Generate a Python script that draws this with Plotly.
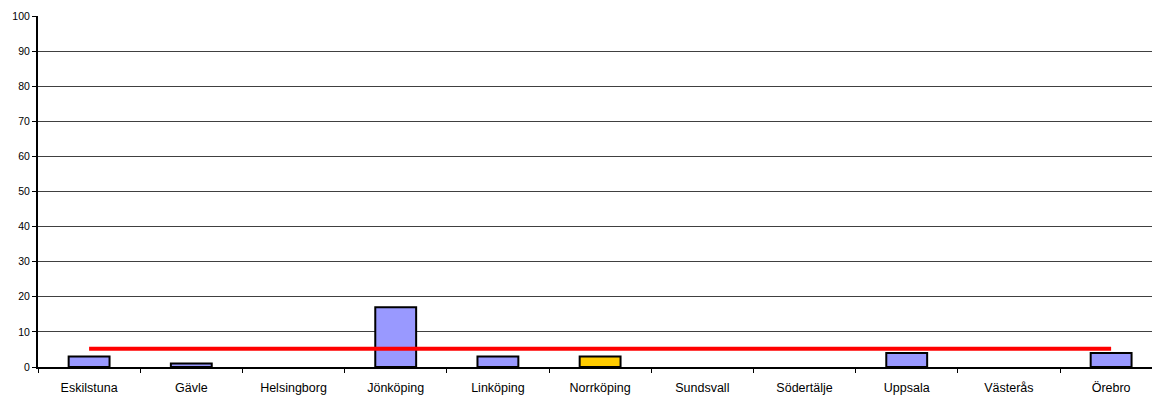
import plotly.graph_objects as go

cities = ["Eskilstuna", "Gävle", "Helsingborg", "Jönköping", "Linköping",
          "Norrköping", "Sundsvall", "Södertälje", "Uppsala", "Västerås", "Örebro"]
values = [3, 1, 0, 17, 3, 3, 0, 0, 4, 0, 4]
bar_colors = ["#9999FF", "#9999FF", "#9999FF", "#9999FF", "#9999FF",
              "#FFCC00", "#9999FF", "#9999FF", "#9999FF", "#9999FF", "#9999FF"]
target = [5.2] * len(cities)
y_ticks = [0, 10, 20, 30, 40, 50, 60, 70, 80, 90, 100]

# empty bars get no outline so they don't show as a stroke on the axis
outline_widths = [2 if v > 0 else 0 for v in values]

fig = go.Figure()
fig.add_trace(go.Bar(
    x=cities, y=values, width=0.4,
    marker=dict(color=bar_colors, line=dict(color="#000000", width=outline_widths)),
    showlegend=False,
))
fig.add_trace(go.Scatter(
    x=cities, y=target, mode="lines",
    line=dict(color="#FF0000", width=4),
    showlegend=False,
))

fig.update_layout(
    width=1152, height=396,
    margin=dict(l=38, r=0, t=16, b=29),
    paper_bgcolor="#FFFFFF", plot_bgcolor="#FFFFFF",
    font=dict(family="Liberation Sans, Arial, sans-serif", size=10, color="#000000"),
    bargap=0.6,
)
fig.update_xaxes(
    type="category", tickson="boundaries",
    showgrid=False, showline=True, linecolor="#000000", linewidth=2,
    ticks="outside", ticklen=4, tickcolor="#000000", tickwidth=1,
    tickfont=dict(size=12.5), range=[-0.5, 10.4], ticklabelstandoff=8,
)
fig.update_yaxes(
    range=[0, 100], tickvals=y_ticks,
    showgrid=True, gridcolor="#404040", gridwidth=1,
    showline=True, linecolor="#000000", linewidth=2,
    ticks="outside", ticklen=4, tickcolor="#000000",
    tickfont=dict(size=10.5), zeroline=False,
)

fig.write_html("out.html")
